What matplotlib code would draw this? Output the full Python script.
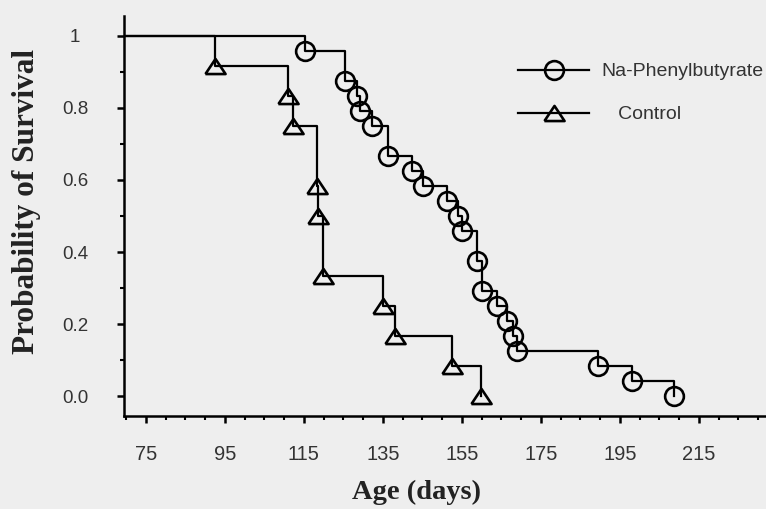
import matplotlib
matplotlib.use("Agg")
import matplotlib.pyplot as plt
from matplotlib.ticker import MultipleLocator

# ---------------- data ----------------
# Na-Phenylbutyrate Kaplan-Meier steps (time in days, survival probability)
napb_t = [0, 115.3, 125.3, 128.5, 129.2, 132.3, 136.3, 142.4, 145.2, 151.3, 154.1,
          155.1, 158.9, 160.1, 163.9, 166.5, 168.0, 169.0, 189.5, 198.1, 208.8]
napb_s = [1.0, 0.958, 0.875, 0.833, 0.792, 0.750, 0.667, 0.625, 0.583, 0.542, 0.500,
          0.458, 0.375, 0.292, 0.250, 0.208, 0.167, 0.125, 0.083, 0.042, 0.0]

# Control Kaplan-Meier steps
ctrl_t = [0, 92.5, 111.0, 112.3, 118.3, 118.7, 119.8, 135.1, 138.2, 152.4, 159.9]
ctrl_s = [1.0, 0.917, 0.833, 0.750, 0.583, 0.500, 0.333, 0.250, 0.167, 0.083, 0.0]

x_ticks = [75, 95, 115, 135, 155, 175, 195, 215]
y_ticks = [0.0, 0.2, 0.4, 0.6, 0.8, 1.0]
y_tick_labels = ["0.0", "0.2", "0.4", "0.6", "0.8", "1"]
series_labels = ["Na-Phenylbutyrate", "   Control"]

# ---------------- figure ----------------
bg = "#eeeeee"
fig = plt.figure(figsize=(7.66, 5.09), dpi=100, facecolor=bg)
ax = fig.add_axes([0.162, 0.183, 0.838, 0.786], facecolor=bg)

tri = [(-1, -0.75), (1, -0.75), (0, 0.75), (-1, -0.75)]
ckw = dict(marker="o", ms=13.5, mfc="none", mec="black", mew=1.9)
tkw = dict(marker=tri, ms=14.5, mfc="none", mec="black", mew=1.9)

ax.step(napb_t, napb_s, where="post", color="black", lw=1.6)
ax.step(ctrl_t, ctrl_s, where="post", color="black", lw=1.6)
ax.plot(napb_t[1:], napb_s[1:], ls="none", **ckw)
ax.plot(ctrl_t[1:], ctrl_s[1:], ls="none", **tkw)

# legend proxies (line + marker)
l1, = ax.plot([], [], color="black", lw=1.6, **ckw)
l2, = ax.plot([], [], color="black", lw=1.6, **tkw)
leg = ax.legend([l1, l2], series_labels, loc="upper left",
                bbox_to_anchor=(0.6137, 0.8825), frameon=False,
                prop={"family": "Liberation Sans", "size": 14},
                handlelength=3.65, handletextpad=0.65, labelspacing=1.31,
                borderpad=0, borderaxespad=0)
for t in leg.get_texts():
    t.set_color("#333333")

ax.set_xlim(69.5, 232)
ax.set_ylim(-0.054, 1.055)

ax.set_xticks(x_ticks)
ax.set_xticklabels([str(v) for v in x_ticks])
ax.xaxis.set_minor_locator(MultipleLocator(5))
ax.set_yticks(y_ticks)
ax.set_yticklabels(y_tick_labels)
ax.yaxis.set_minor_locator(MultipleLocator(0.1))

for s in ["top", "right"]:
    ax.spines[s].set_visible(False)
for s in ["left", "bottom"]:
    ax.spines[s].set_linewidth(1.8)

ax.tick_params(which="major", direction="out", length=5, width=1.8,
               labelcolor="#333333")
ax.tick_params(which="minor", direction="out", length=3, width=1.5)
ax.tick_params(axis="x", which="major", labelsize=14.5, pad=16)
ax.tick_params(axis="y", which="major", labelsize=13.5, pad=30.3)
for lab in ax.get_xticklabels():
    lab.set_family("Liberation Sans")
for lab in ax.get_yticklabels():
    lab.set_family("Liberation Sans")
    lab.set_ha("center")

ax.set_xlabel("Age (days)", family="Liberation Serif", fontweight="bold",
              fontsize=20.5, color="#222222")
ax.set_ylabel("Probability of Survival", family="Liberation Serif",
              fontweight="bold", fontsize=22.5, color="#222222")
ax.xaxis.set_label_coords(0.455, -0.16)
ax.yaxis.set_label_coords(-0.13, 0.535)

fig.savefig("out.png", dpi=100, facecolor=bg)
